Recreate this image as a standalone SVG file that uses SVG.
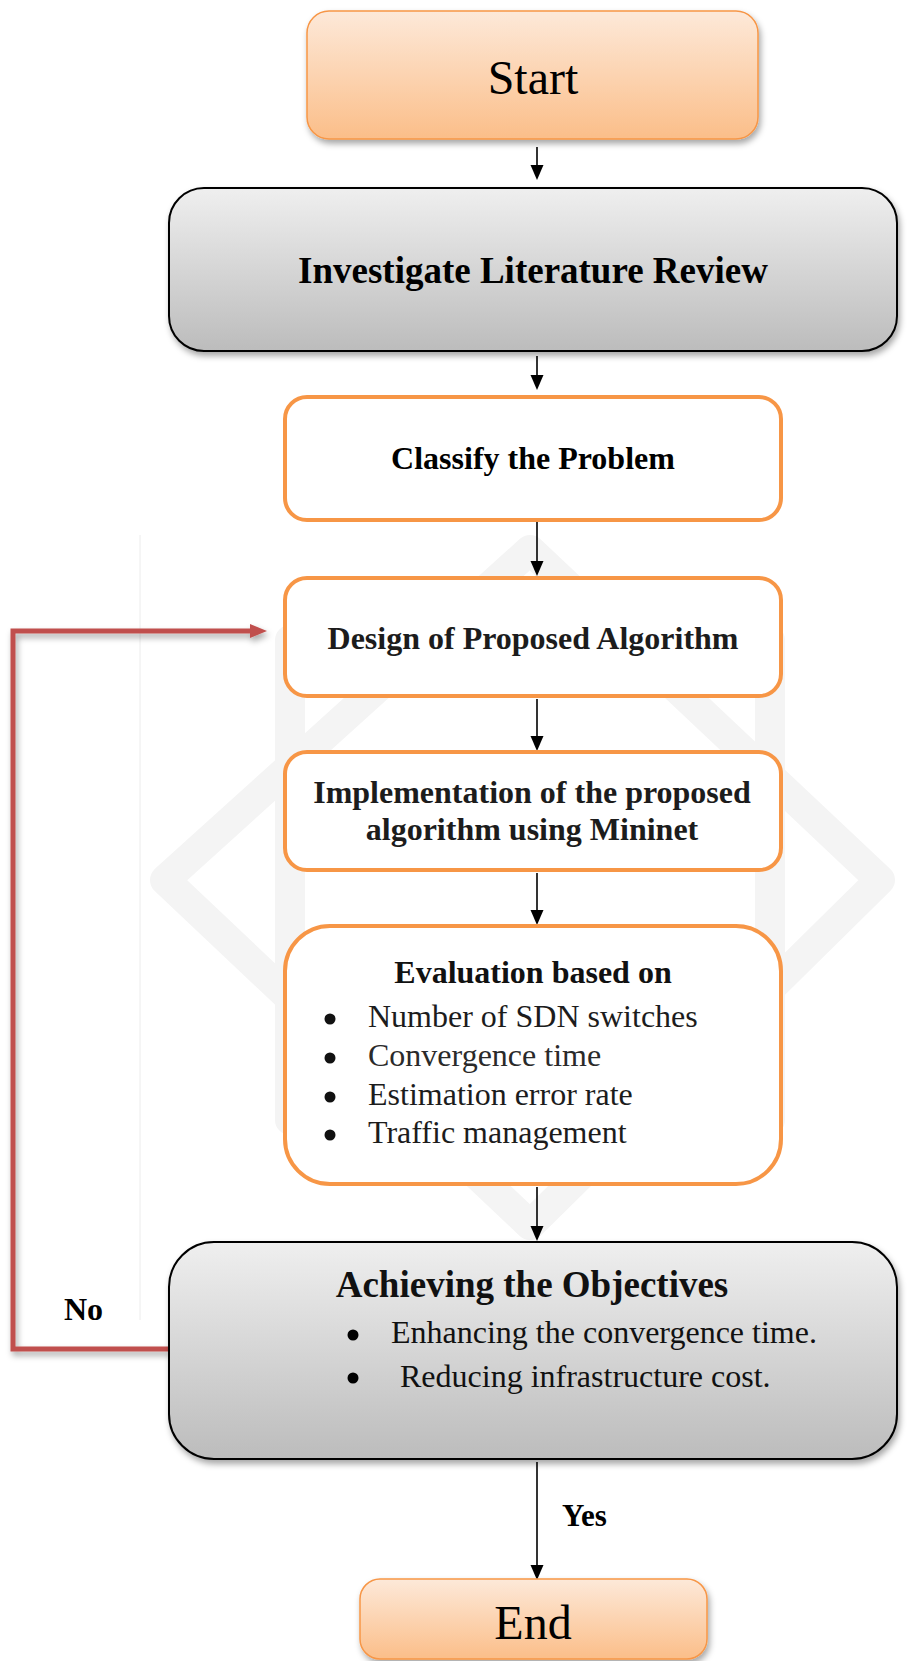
<svg xmlns="http://www.w3.org/2000/svg" width="921" height="1661" viewBox="0 0 921 1661">
<defs>
<linearGradient id="gOrange" x1="0" y1="0" x2="0" y2="1">
<stop offset="0" stop-color="#FDE9D9"/>
<stop offset="1" stop-color="#FBBE89"/>
</linearGradient>
<linearGradient id="gGray" x1="0" y1="0" x2="0" y2="1">
<stop offset="0" stop-color="#EFEFEF"/>
<stop offset="1" stop-color="#BCBCBC"/>
</linearGradient>
<filter id="shadow" x="-10%" y="-10%" width="120%" height="130%">
<feDropShadow dx="2" dy="4" stdDeviation="3" flood-color="#000" flood-opacity="0.35"/>
</filter>
<marker id="redHead" markerUnits="userSpaceOnUse" markerWidth="18" markerHeight="16" refX="2" refY="8" orient="auto">
<path d="M0,1 L17,8 L0,15 Z" fill="#C0504D"/>
</marker>
<style>
.serif{font-family:"Liberation Serif","Times New Roman",serif;}
.bold{font-weight:bold;}
.orangeBox{fill:#ffffff;stroke:#F79646;stroke-width:4;}
.termBox{fill:url(#gOrange);stroke:#F79646;stroke-width:1.5;filter:url(#shadow);}
.grayBox{fill:url(#gGray);stroke:#000;stroke-width:2;filter:url(#shadow);}
.conn{stroke:#000;stroke-width:1.6;fill:none;}
.head{fill:#000;}
.wm{fill:none;stroke:#f4f4f4;stroke-width:30;stroke-linejoin:round;}
</style>
</defs>
<rect width="921" height="1661" fill="#ffffff"/>
<g id="watermark">
<path class="wm" d="M530,550 L880,880 L530,1225 L165,880 Z"/>
<path class="wm" d="M290,640 L770,640 L770,1120 L290,1120 Z"/>
<line x1="140" y1="535" x2="140" y2="1320" stroke="#ececec" stroke-width="1"/>
</g>
<g id="connectors">
<line class="conn" x1="537" y1="147" x2="537" y2="166"/>
<polygon class="head" points="530.5,165 543.5,165 537,180"/>
<line class="conn" x1="537" y1="356" x2="537" y2="376"/>
<polygon class="head" points="530.5,375 543.5,375 537,390"/>
<line class="conn" x1="537" y1="522" x2="537" y2="562"/>
<polygon class="head" points="530.5,561 543.5,561 537,576"/>
<line class="conn" x1="537" y1="699" x2="537" y2="737"/>
<polygon class="head" points="530.5,736 543.5,736 537,751"/>
<line class="conn" x1="537" y1="873" x2="537" y2="911"/>
<polygon class="head" points="530.5,910 543.5,910 537,925"/>
<line class="conn" x1="537" y1="1187" x2="537" y2="1227"/>
<polygon class="head" points="530.5,1226 543.5,1226 537,1241"/>
<line class="conn" x1="537" y1="1462" x2="537" y2="1566"/>
<polygon class="head" points="530.5,1565 543.5,1565 537,1580"/>
<path d="M169,1349 H13 V631 H252" fill="none" stroke="#C0504D" stroke-width="5" marker-end="url(#redHead)" filter="url(#shadow)"/>
<text x="64" y="1320" class="serif bold" font-size="32" fill="#000">No</text>
<text x="562" y="1526" class="serif bold" font-size="31" fill="#000">Yes</text>
</g>
<g id="start">
<rect class="termBox" x="307" y="11" width="451" height="128" rx="22"/>
<text x="533" y="94" class="serif" font-size="48" text-anchor="middle" fill="#000">Start</text>
</g>
<g id="literature">
<rect class="grayBox" x="169" y="188" width="728" height="163" rx="35"/>
<text x="533" y="283" class="serif bold" font-size="37" text-anchor="middle" fill="#000">Investigate Literature Review</text>
</g>
<g id="classify">
<rect class="orangeBox" x="285" y="397" width="496" height="123" rx="22"/>
<text x="533" y="469" class="serif bold" font-size="32" text-anchor="middle" fill="#000">Classify the Problem</text>
</g>
<g id="design">
<rect class="orangeBox" x="285" y="578" width="496" height="118" rx="22"/>
<text x="533" y="649" class="serif bold" font-size="32" text-anchor="middle" fill="#1c1c1c">Design of Proposed Algorithm</text>
</g>
<g id="implementation">
<rect class="orangeBox" x="285" y="752" width="496" height="118" rx="22"/>
<text x="532" y="803" class="serif bold" font-size="32" text-anchor="middle" fill="#1c1c1c">Implementation of the proposed</text>
<text x="532" y="840" class="serif bold" font-size="32" text-anchor="middle" fill="#1c1c1c">algorithm using Mininet</text>
</g>
<g id="evaluation">
<rect class="orangeBox" x="285" y="926" width="496" height="258" rx="45"/>
<text x="533" y="983" class="serif bold" font-size="32" text-anchor="middle" fill="#111">Evaluation based on</text>
<circle cx="330" cy="1019" r="5.5" fill="#111"/>
<circle cx="330" cy="1058" r="5.5" fill="#111"/>
<circle cx="330" cy="1097" r="5.5" fill="#111"/>
<circle cx="330" cy="1135" r="5.5" fill="#111"/>
<text x="368" y="1027" class="serif" font-size="32" fill="#1c1c1c">Number of SDN switches</text>
<text x="368" y="1066" class="serif" font-size="32" fill="#2a2a2a">Convergence time</text>
<text x="368" y="1105" class="serif" font-size="32" fill="#1c1c1c">Estimation error rate</text>
<text x="368" y="1143" class="serif" font-size="32" fill="#1c1c1c">Traffic management</text>
</g>
<g id="objectives">
<rect class="grayBox" x="169" y="1242" width="728" height="217" rx="45"/>
<text x="532" y="1297" class="serif bold" font-size="37" text-anchor="middle" fill="#111">Achieving the Objectives</text>
<circle cx="353" cy="1335" r="5.5" fill="#000"/>
<circle cx="353" cy="1378" r="5.5" fill="#000"/>
<text x="391" y="1343" class="serif" font-size="32" fill="#111">Enhancing the convergence time.</text>
<text x="400" y="1387" class="serif" font-size="32" fill="#111">Reducing infrastructure cost.</text>
</g>
<g id="end">
<rect class="termBox" x="360" y="1579" width="347" height="80" rx="20"/>
<text x="533" y="1639" class="serif" font-size="48" text-anchor="middle" fill="#000">End</text>
</g>
</svg>
